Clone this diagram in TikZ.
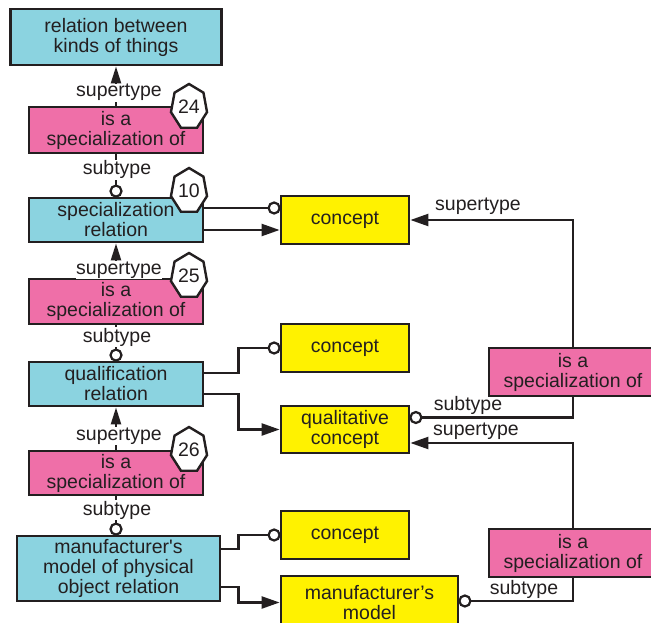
\documentclass[tikz,border=0pt]{standalone}
\usepackage{fontspec}
\setmainfont{Liberation Sans}
\usetikzlibrary{arrows.meta}
\definecolor{cyanbox}{HTML}{8BD3E0}
\definecolor{pinkbox}{HTML}{EF6FA8}
\definecolor{yellowbox}{HTML}{FFF200}
\definecolor{ink}{HTML}{231F20}
\newcommand\heptnum[3]{%
  \begin{scope}[shift={(#2)}, x=18.5pt, y=23pt]
    \draw[hep] (90:1) \foreach \k in {1,...,6}{ -- ({90+\k*360/7}:1)} -- cycle;
  \end{scope}
  \node[numtext] (#1) at (#2) {#3};}
\begin{document}
\begin{tikzpicture}[x=1pt,y=-1pt,
  every node/.style={font=\fontsize{19.5}{20}\selectfont, text=ink},
  box/.style={draw=ink, line width=2.8pt, align=center, inner sep=0pt},
  kind/.style={box, fill=cyanbox},
  rel/.style={box, fill=pinkbox},
  conc/.style={box, fill=yellowbox},
  conn/.style={draw=ink, line width=2.3pt},
  arr/.style={conn, -{Triangle[length=18pt,width=12pt]}},
  varr/.style={conn, -{Triangle[length=17pt,width=10pt]}},
  ring/.style={circle, draw=ink, fill=white, line width=2.2pt, minimum size=11pt, inner sep=0pt, outer sep=0pt},
  lab/.style={inner sep=0.5pt, fill=white, anchor=base},
  rlab/.style={inner sep=0pt, anchor=base},
  hep/.style={draw=ink, fill=white, line width=2.4pt},
  numtext/.style={inner sep=0pt},
]
\useasboundingbox (0,0) rectangle (651,623);
\fill[white] (0,0) rectangle (651,623);
\clip (0,0) rectangle (651,623);

% left column
\node[kind, minimum width=211pt, minimum height=56pt] (top) at (116,37) {relation between\\kinds of things};
\node[rel, minimum width=174pt, minimum height=46pt] (p24) at (116,130) {is a\\specialization of};
\node[kind, minimum width=174pt, minimum height=44pt] (spec) at (116,220) {specialization\\relation};
\node[rel, minimum width=174pt, minimum height=45pt] (p25) at (116,301.5) {is a\\specialization of};
\node[kind, minimum width=174pt, minimum height=44pt] (qual) at (116,384) {qualification\\relation};
\node[rel, minimum width=174pt, minimum height=44pt] (p26) at (116,473) {is a\\specialization of};
\node[kind, minimum width=203pt, minimum height=65pt] (manu) at (118.5,568.5) {manufacturer\textquotesingle s\\model of physical\\object relation};

% concepts
\node[conc, minimum width=128pt, minimum height=48pt] (c1) at (345,220) {concept};
\node[conc, minimum width=128pt, minimum height=48pt] (c2) at (345,348) {concept};
\node[conc, minimum width=128pt, minimum height=47pt] (qc) at (345,429.5) {qualitative\\concept};
\node[conc, minimum width=128pt, minimum height=48pt] (c3) at (345,535) {concept};
\node[conc, minimum width=177pt, minimum height=53pt] (mm) at (369.5,602.5) {manufacturer's\\model};

% right relations
\node[rel, minimum width=168pt, minimum height=48pt] (rp1) at (573,372) {is a\\specialization of};
\node[rel, minimum width=168pt, minimum height=48pt] (rp2) at (573,553) {is a\\specialization of};

% open circle ends
\node[ring, anchor=south] (o1) at (spec.north) {};
\node[ring, anchor=south] (o2) at (qual.north) {};
\node[ring, anchor=south] (o3) at (p26.south |- manu.north) {};
\node[ring, anchor=east] (o4) at ([yshift=12pt]c1.west) {};
\node[ring, anchor=east] (o5) at (c2.west) {};
\node[ring, anchor=east] (o6) at (c3.west) {};
\node[ring, anchor=west] (o7) at ([yshift=12pt]qc.east) {};
\node[ring, anchor=west] (o8) at ([yshift=1.5pt]mm.east) {};

% vertical connectors
\draw[varr] (p24) -- (top);
\draw[conn] (p24) -- (o1);
\draw[varr] (p25) -- (spec);
\draw[conn] (p25) -- (o2);
\draw[varr] (p26) -- (qual);
\draw[conn] (p26.south) -- (o3);

% left to right connectors
\draw[conn] ([yshift=12pt]spec.east) -- (o4);
\draw[arr] ([yshift=-10pt]spec.east) -- ([yshift=-10pt]c1.west);
\draw[conn] ([yshift=11pt]qual.east) -- ++(34,0) |- (o5);
\draw[arr] ([yshift=-10pt]qual.east) -- ++(34,0) |- (qc.west);
\draw[conn] ([yshift=19.5pt]manu.east) -- ++(17,0) |- (o6);
\draw[arr] ([yshift=-18.5pt]manu.east) -- ++(17,0) |- (mm.west);

% right connectors
\draw[arr] (rp1.north) |- (c1.east);
\draw[conn] (rp1.south) |- (o7);
\draw[arr] (rp2.north) |- ([yshift=-13.5pt]qc.east);
\draw[conn] (rp2.south) |- (o8);

% labels
\node[lab] (l1) at (119,97) {supertype};
\node[lab] (l2) at (117,175) {subtype};
\node[lab] (l3) at (119,274) {supertype};
\node[lab] (l4) at (117,342) {subtype};
\node[lab] (l5) at (119,440) {supertype};
\node[lab] (l6) at (117,515) {subtype};
\node[rlab] (r1) at (478,211) {supertype};
\node[rlab] (r2) at (468,410) {subtype};
\node[rlab] (r3) at (476,435) {supertype};
\node[rlab] (r4) at (524,594) {subtype};

% numbered heptagons
\heptnum{h24}{189,107}{24}
\heptnum{h10}{189,191}{10}
\heptnum{h25}{189,276}{25}
\heptnum{h26}{189,450}{26}
\end{tikzpicture}
\end{document}
